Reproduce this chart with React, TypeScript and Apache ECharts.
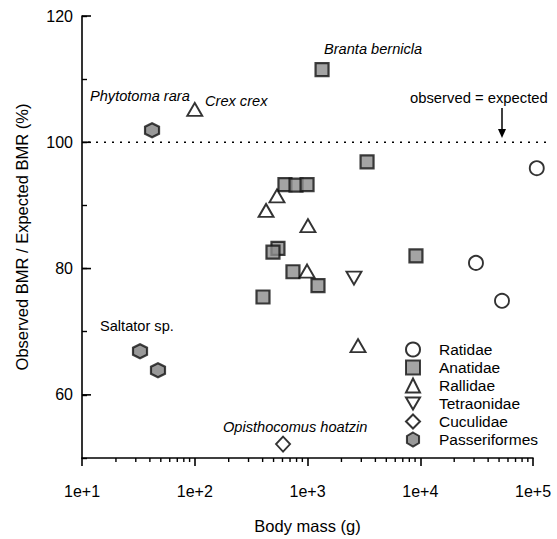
import React, { useEffect, useRef } from 'react';
import * as echarts from 'echarts';

// ---- Data (body mass in g, observed/expected BMR in %) ----
const familyNames = ['Ratidae', 'Anatidae', 'Rallidae', 'Tetraonidae', 'Cuculidae', 'Passeriformes'];

const ratidaeMass = [108000, 31200, 53100];
const ratidaeBmr = [95.9, 80.9, 74.9];

const anatidaeMass = [1346, 3375, 9160, 631, 791, 991, 547, 494, 743, 1239, 403];
const anatidaeBmr = [111.5, 96.9, 82.0, 93.3, 93.2, 93.3, 83.2, 82.6, 79.5, 77.3, 75.5];

const rallidaeMass = [100, 536, 429, 1009, 991, 2806];
const rallidaeBmr = [105.2, 91.5, 89.2, 86.8, 79.6, 67.8];

const tetraonidaeMass = [2583];
const tetraonidaeBmr = [78.5];

const cuculidaeMass = [607];
const cuculidaeBmr = [52.2];

const passeriformesMass = [41.8, 32.7, 47.2];
const passeriformesBmr = [101.9, 66.9, 63.9];

// axis ticks
const xMajorTicks = [10, 100, 1000, 10000, 100000];
const xMinorTicks = [
  20, 30, 40, 50, 60, 70, 80, 90,
  200, 300, 400, 500, 600, 700, 800, 900,
  2000, 3000, 4000, 5000, 6000, 7000, 8000, 9000,
  20000, 30000, 40000, 50000, 60000, 70000, 80000, 90000,
];
const yMajorTicks = [60, 80, 100, 120];
const refLineValue = 100;

const FONT = '"Liberation Sans", Arial, Helvetica, sans-serif';

const pairs = (xs: number[], ys: number[]) => xs.map((x, i) => [x, ys[i]]);

export default function App() {
  const ref = useRef<HTMLDivElement>(null);

  useEffect(() => {
    if (!ref.current) return;
    const chart = echarts.init(ref.current, undefined, { renderer: 'svg' });

    const openStyle = { color: '#ffffff', borderColor: '#000000', borderWidth: 1.9 };
    const filledStyle = { color: '#8d8d8d', borderColor: '#111111', borderWidth: 2.2 };

    const option: any = {
      animation: false,
      backgroundColor: '#ffffff',
      grid: { left: 82, top: 16, width: 451, height: 445, containLabel: false },
      xAxis: {
        type: 'log',
        logBase: 10,
        min: 10,
        max: 100000,
        name: 'Body mass (g)',
        nameLocation: 'middle',
        nameGap: 59,
        nameTextStyle: { fontFamily: FONT, fontSize: 16.5, color: '#000' },
        axisLine: { lineStyle: { color: '#000', width: 1.6 } },
        axisTick: { show: true, inside: false, length: 8, lineStyle: { color: '#000', width: 1.6 } },
        axisLabel: {
          margin: 25,
          fontFamily: FONT,
          fontSize: 16,
          color: '#000',
          formatter: (v: number) => '1e+' + Math.round(Math.log10(v)),
        },
        splitLine: { show: false },
      },
      yAxis: {
        type: 'value',
        min: 50,
        max: 120,
        interval: 10,
        name: 'Observed BMR / Expected BMR (%)',
        nameLocation: 'middle',
        nameGap: 52,
        nameTextStyle: { fontFamily: FONT, fontSize: 16.5, color: '#000' },
        axisLine: { lineStyle: { color: '#000', width: 1.6 } },
        axisTick: { show: true, inside: true, length: 5, lineStyle: { color: '#000', width: 1.4 } },
        axisLabel: {
          margin: 9,
          fontFamily: FONT,
          fontSize: 16,
          color: '#000',
          formatter: (v: number) => (v % 20 === 0 && v >= 60 ? String(v) : ''),
        },
        splitLine: { show: false },
      },
      legend: {
        data: familyNames,
        orient: 'vertical',
        left: 400,
        top: 336,
        itemWidth: 14,
        itemHeight: 14,
        itemGap: 1,
        textStyle: { fontFamily: FONT, fontSize: 15.5, lineHeight: 17, color: '#000', padding: [0, 0, 0, 14] },
      },
      series: [
        {
          name: 'Ratidae', type: 'scatter', clip: false, symbol: 'circle', symbolSize: 14,
          itemStyle: openStyle, data: pairs(ratidaeMass, ratidaeBmr), z: 5,
        },
        {
          name: 'Anatidae', type: 'scatter', clip: false, symbol: 'rect', symbolSize: 13,
          itemStyle: filledStyle, data: pairs(anatidaeMass, anatidaeBmr), z: 5,
        },
        {
          name: 'Rallidae', type: 'scatter', clip: false, symbol: 'triangle', symbolSize: [15, 13],
          itemStyle: openStyle, data: pairs(rallidaeMass, rallidaeBmr), z: 5,
        },
        {
          name: 'Tetraonidae', type: 'scatter', clip: false, symbol: 'path://M0,0L10,0L5,8.7Z', symbolSize: [15, 13],
          itemStyle: openStyle, data: pairs(tetraonidaeMass, tetraonidaeBmr), z: 5,
        },
        {
          name: 'Cuculidae', type: 'scatter', clip: false, symbol: 'diamond', symbolSize: [14, 15],
          itemStyle: openStyle, data: pairs(cuculidaeMass, cuculidaeBmr), z: 5,
        },
        {
          name: 'Passeriformes', type: 'scatter', clip: false,
          symbol: 'path://M5,0L9.33,2.5L9.33,7.5L5,10L0.67,7.5L0.67,2.5Z', symbolSize: 14,
          itemStyle: { color: '#7f7f7f', borderColor: '#111111', borderWidth: 2.2 },
          data: pairs(passeriformesMass, passeriformesBmr), z: 5,
        },
        // minor ticks of the log x axis (outside, short)
        {
          name: 'xMinor', type: 'custom', silent: true, z: 3,
          data: xMinorTicks.map((v) => [v, 50]),
          renderItem: (_p: any, api: any) => {
            const p = api.coord([api.value(0), api.value(1)]);
            return {
              type: 'line',
              shape: { x1: p[0], y1: p[1], x2: p[0], y2: p[1] + 4 },
              style: { stroke: '#000', lineWidth: 1.4 },
            };
          },
        },
        // longer major ticks on the y axis (inside)
        {
          name: 'yMajor', type: 'custom', silent: true, z: 3,
          data: yMajorTicks.map((v) => [xMajorTicks[0], v]),
          renderItem: (_p: any, api: any) => {
            const p = api.coord([api.value(0), api.value(1)]);
            return {
              type: 'line',
              shape: { x1: p[0], y1: p[1], x2: p[0] + 9, y2: p[1] },
              style: { stroke: '#000', lineWidth: 1.6 },
            };
          },
        },
        // observed = expected reference line
        {
          name: 'refLine', type: 'custom', silent: true, z: 2,
          data: [[xMajorTicks[0], refLineValue]],
          renderItem: (_p: any, api: any) => {
            const a = api.coord([api.value(0), api.value(1)]);
            const b = api.coord([xMajorTicks[xMajorTicks.length - 1], api.value(1)]);
            return {
              type: 'line',
              shape: { x1: a[0] + 6, y1: a[1], x2: b[0] + 16, y2: a[1] },
              style: { stroke: '#000', lineWidth: 1.6, lineDash: [2, 6] },
            };
          },
        },
      ],
      graphic: [
        { type: 'text', x: 90, y: 96, style: { text: 'Phytotoma rara', font: `italic 14.6px ${FONT}`, fill: '#000', textAlign: 'left', textVerticalAlign: 'middle' } },
        { type: 'text', x: 205, y: 101, style: { text: 'Crex crex', font: `italic 14.6px ${FONT}`, fill: '#000', textAlign: 'left', textVerticalAlign: 'middle' } },
        { type: 'text', x: 324, y: 49, style: { text: 'Branta bernicla', font: `italic 14.6px ${FONT}`, fill: '#000', textAlign: 'left', textVerticalAlign: 'middle' } },
        { type: 'text', x: 410, y: 98, style: { text: 'observed = expected', font: `14.8px ${FONT}`, fill: '#000', textAlign: 'left', textVerticalAlign: 'middle' } },
        { type: 'text', x: 100, y: 326, style: { text: 'Saltator sp.', font: `14.6px ${FONT}`, fill: '#000', textAlign: 'left', textVerticalAlign: 'middle' } },
        { type: 'text', x: 223, y: 427, style: { text: 'Opisthocomus hoatzin', font: `italic 14.6px ${FONT}`, fill: '#000', textAlign: 'left', textVerticalAlign: 'middle' } },
        { type: 'line', shape: { x1: 502, y1: 108, x2: 502, y2: 131 }, style: { stroke: '#000', lineWidth: 1.5 } },
        { type: 'polygon', shape: { points: [[498, 129], [506, 129], [502, 138]] }, style: { fill: '#000' } },
      ],
    };

    chart.setOption(option);
    return () => chart.dispose();
  }, []);

  return <div ref={ref} style={{ position: 'fixed', left: 0, top: 0, width: 557, height: 539 }} />;
}
